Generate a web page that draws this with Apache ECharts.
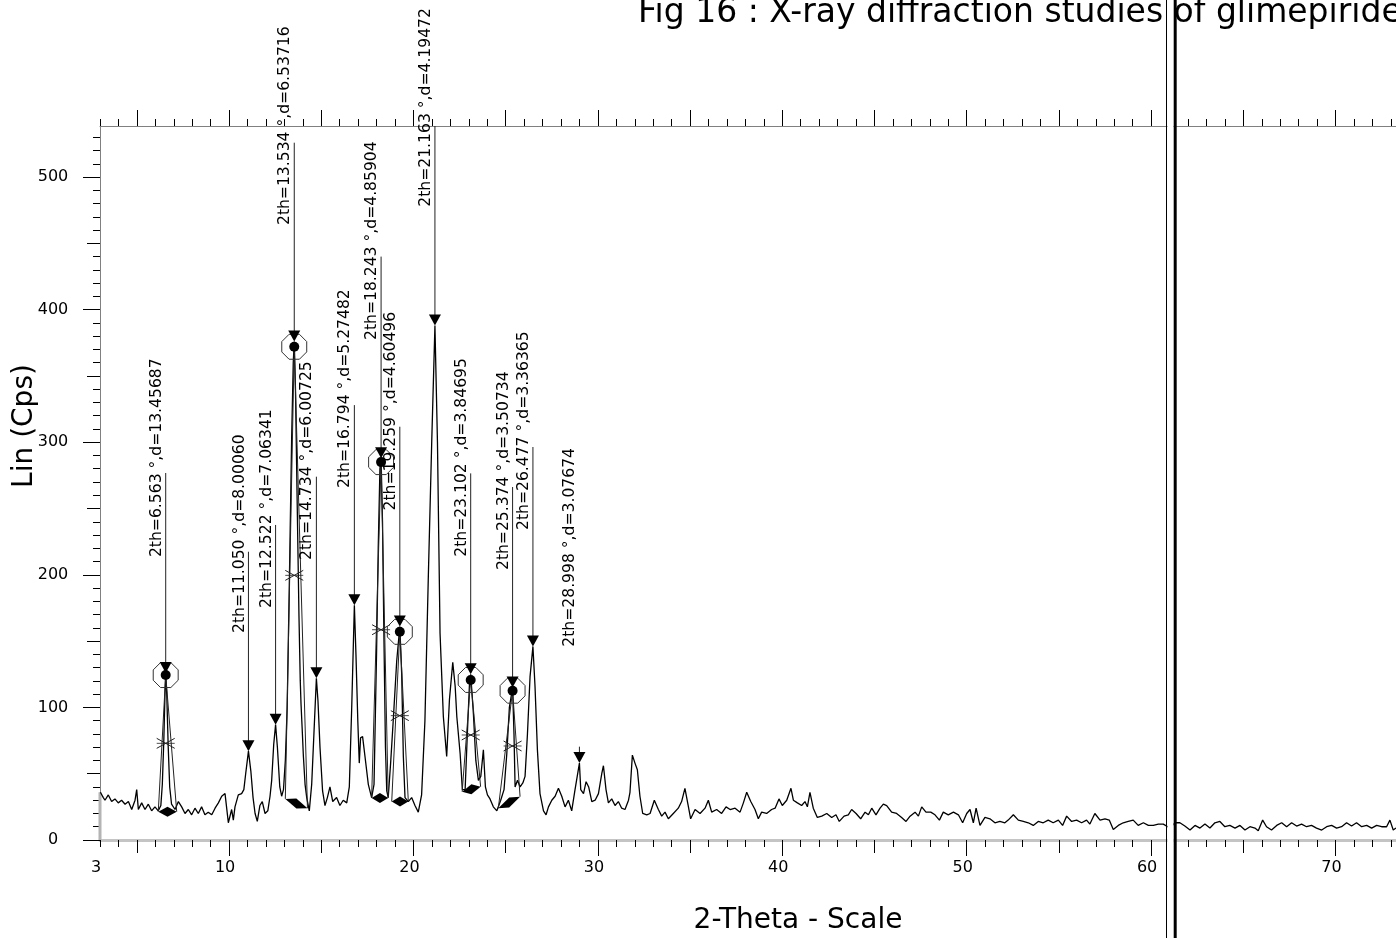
<!DOCTYPE html>
<html><head><meta charset="utf-8">
<script src="https://cdn.jsdelivr.net/npm/echarts@6/dist/echarts.min.js"></script>
<style>html,body{margin:0;padding:0;background:#fff}#c{width:1396px;height:938px}</style>
</head><body><div id="c"></div>
<script>
// ---------- DATA ----------
const twoTheta = [3.02,3.18,3.27,3.45,3.63,3.81,3.99,4.17,4.36,4.54,4.72,4.90,4.99,5.08,5.26,5.44,5.62,5.80,5.98,6.16,6.30,6.38,6.46,6.52,6.563,6.62,6.70,6.78,6.88,7.07,7.25,7.43,7.61,7.79,7.97,8.15,8.33,8.51,8.69,8.87,9.06,9.24,9.42,9.60,9.78,9.96,10.14,10.23,10.32,10.50,10.68,10.80,10.90,11.05,11.18,11.30,11.41,11.53,11.67,11.80,11.95,12.10,12.22,12.31,12.42,12.522,12.62,12.75,12.85,12.95,13.05,13.15,13.27,13.39,13.48,13.534,13.60,13.70,13.79,13.86,13.90,13.96,14.03,14.12,14.21,14.35,14.48,14.60,14.734,14.82,14.93,15.07,15.20,15.33,15.47,15.62,15.83,16.01,16.19,16.38,16.52,16.65,16.794,16.88,16.98,17.06,17.13,17.24,17.37,17.55,17.73,17.86,18.00,18.09,18.18,18.243,18.32,18.40,18.48,18.55,18.63,18.76,18.91,19.09,19.259,19.36,19.45,19.54,19.72,19.90,20.08,20.26,20.44,20.62,20.80,20.99,21.163,21.30,21.44,21.62,21.80,21.95,22.13,22.26,22.35,22.53,22.65,22.80,22.92,23.03,23.102,23.25,23.38,23.52,23.65,23.79,23.90,24.01,24.15,24.33,24.52,24.73,24.91,25.06,25.20,25.374,25.45,25.51,25.64,25.78,25.93,26.05,26.18,26.32,26.477,26.59,26.72,26.86,27.05,27.19,27.32,27.50,27.68,27.86,28.04,28.22,28.40,28.58,28.76,28.998,29.07,29.22,29.36,29.50,29.67,29.85,30.03,30.21,30.30,30.44,30.57,30.75,30.93,31.11,31.29,31.47,31.66,31.74,31.87,32.01,32.14,32.28,32.43,32.65,32.83,33.06,33.28,33.46,33.64,33.82,34.09,34.36,34.54,34.72,34.91,35.03,35.27,35.54,35.81,35.99,36.17,36.44,36.71,36.95,37.17,37.44,37.71,37.89,38.07,38.29,38.52,38.70,38.88,39.15,39.42,39.61,39.82,40.00,40.24,40.47,40.60,40.82,41.05,41.23,41.36,41.50,41.68,41.90,42.14,42.41,42.68,42.91,43.09,43.35,43.58,43.76,44.00,44.25,44.49,44.67,44.85,45.08,45.30,45.48,45.66,45.93,46.20,46.47,46.71,46.93,47.20,47.38,47.56,47.79,48.05,48.28,48.52,48.73,49.00,49.28,49.55,49.78,50.00,50.18,50.36,50.51,50.72,50.99,51.26,51.53,51.80,52.07,52.25,52.53,52.80,53.07,53.34,53.61,53.88,54.15,54.42,54.69,54.97,55.20,55.42,55.69,55.96,56.23,56.50,56.68,56.95,57.23,57.50,57.73,57.95,58.22,58.49,58.76,59.03,59.30,59.58,59.85,60.12,60.39,60.66,61.02,61.29,61.56,61.83,62.11,62.38,62.65,62.92,63.19,63.46,63.73,64.00,64.27,64.55,64.82,65.09,65.36,65.63,65.81,66.05,66.26,66.53,66.81,67.08,67.35,67.62,67.89,68.16,68.43,68.70,68.97,69.25,69.52,69.79,70.06,70.33,70.60,70.87,71.14,71.42,71.69,71.96,72.23,72.50,72.77,72.95,73.13,73.28];
const intensity = [36,32,30,34,29,31,28,30,27,29,23,30,38,23,28,23,27,22,25,22,26,42,75,108,126,110,70,40,27,23,29,25,20,23,19,24,20,25,19,21,19,24,28,33,35,13,23,15,25,34,35,38,50,67,52,32,20,14,26,29,20,22,33,45,72,87,70,40,33,38,60,100,196,301,360,376,340,248,169,120,103,85,63,42,32,22,42,80,122,105,70,37,26,32,40,29,32,26,30,28,40,100,177,140,90,58,77,78,63,42,32,42,143,222,280,288,240,150,70,37,32,58,92,135,161,125,63,32,29,32,26,21,34,90,196,301,388,300,156,93,63,106,134,116,93,65,38,38,80,116,125,95,60,45,48,68,40,34,31,25,22,30,38,65,100,115,80,40,45,40,43,48,80,123,146,116,68,35,22,19,25,30,33,39,33,25,30,22,38,58,38,35,44,40,29,30,35,50,56,38,28,31,26,29,24,23,30,36,64,58,53,33,20,19,20,30,23,18,21,16,20,24,29,39,25,16,23,20,24,30,21,23,20,25,23,24,21,28,36,29,23,16,21,20,23,24,31,26,30,39,30,28,26,29,25,36,24,17,18,20,17,19,14,18,19,23,20,16,21,19,24,19,24,27,26,21,20,17,14,18,21,18,25,21,21,19,15,21,19,21,19,13,20,23,13,24,11,17,16,13,14,13,15,19,15,14,13,11,14,13,15,13,15,11,18,14,15,13,15,12,20,15,16,15,8,11,13,14,15,11,13,11,11,12,12,9,13,13,10.5,7.5,11,9,12,9,13,14,10,11,9,11,7.5,10,9,7,15,10,7.5,11,13,10,13,10.5,12,10,11,9,7.5,10,11,9,10,13,10.5,13,10,11,9,11,10,10,15,7.5,9];

// labelled peaks
const peakPos   = [6.563, 11.050, 12.522, 13.534, 14.734, 16.794, 18.243, 19.259, 21.163, 23.102, 25.374, 26.477, 28.998];
const peakD     = ['13.45687','8.00060','7.06341','6.53716','6.00725','5.27482','4.85904','4.60496','4.19472','3.84695','3.50734','3.36365','3.07674'];
const peakTop   = [126, 67, 87, 376, 122, 177, 288, 161, 388, 125, 115, 146, 58];
const leaderTop = [276.8, 217.4, 237.6, 525.9, 274, 328, 440, 311.7, 538.5, 276.5, 266.2, 296.4, 70.4];
const labelBase = [213.4, 156.1, 175.0, 463.8, 211.2, 265.5, 377.1, 248.5, 477.6, 213.6, 203.6, 233.8, 145.8];

// fitted (selected) peaks
const selPos   = [6.563, 13.534, 18.243, 19.259, 23.102, 25.374];
const selDot   = [124.4, 372, 285, 157, 120.7, 112.6];
const selHalf  = [72.9, 199.6, 158.6, 93.8, 79.2, 70.9];
const selBLx   = [6.16, 13.05, 17.73, 18.82, 22.64, 24.60];
const selBLy   = [21.4, 31, 31.7, 29, 36.4, 23.9];
const selBRx   = [7.16, 14.25, 18.63, 19.72, 23.64, 25.78];
const selBRy   = [21.4, 24, 31.7, 29, 40.2, 32.7];

const xTickLabels = [3, 10, 20, 30, 40, 50, 60, 70];
const yTickLabels = [0, 100, 200, 300, 400, 500];

const titleText = 'Fig 16 : X-ray diffraction studies of glimepiride';
const xName = '2-Theta - Scale';
const yName = 'Lin (Cps)';

// ---------- CHART ----------
const FONT = '"DejaVu Sans", sans-serif';
const seq = (a, b, s) => { const r = []; for (let v = a; v <= b + 1e-9; v += s) r.push(Math.round(v * 1000) / 1000); return r; };
const X_MIN = 3, X_MAX = 73.28, Y_MAX = 538.5;

function xAx(pos, ticks, len, line, labels) {
  return {
    type: 'value', min: X_MIN, max: X_MAX, position: pos, gridIndex: 0,
    axisLine: { show: !!line, onZero: false, lineStyle: line || {} },
    axisTick: { show: true, customValues: ticks, length: len, lineStyle: { color: '#000', width: 1 } },
    axisLabel: labels ? {
      show: true, customValues: labels, fontSize: 16, fontFamily: FONT, color: '#000', margin: 20, padding: [0, 8, 0, 0]
    } : { show: false },
    splitLine: { show: false }
  };
}
function yAx(ticks, len, line, labels) {
  return {
    type: 'value', min: 0, max: Y_MAX, position: 'left', gridIndex: 0,
    axisLine: { show: !!line, onZero: false, lineStyle: line || {} },
    axisTick: { show: true, customValues: ticks, length: len, lineStyle: { color: '#000', width: 1 } },
    axisLabel: labels ? {
      show: true, customValues: labels, fontSize: 16, fontFamily: FONT, color: '#000', align: 'center', margin: 47, padding: [6, 0, 0, 0]
    } : { show: false },
    splitLine: { show: false }
  };
}

const chart = echarts.init(document.getElementById('c'), null, { renderer: 'canvas', width: 1396, height: 938 });

const curve = twoTheta.map((x, i) => [x, intensity[i]]);

const option = {
  animation: false,
  backgroundColor: '#fff',
  grid: { left: 100, top: 126, right: 0, bottom: 98, containLabel: false, outerBoundsMode: 'none' },
  xAxis: [
    xAx('bottom', seq(3, 73, 1), 7, { color: '#c4c4c4', width: 3 }, xTickLabels),
    xAx('bottom', seq(5, 65, 10), 13),
    xAx('bottom', seq(10, 70, 10), 16),
    xAx('top', seq(3, 73, 1), 7, { color: '#808080', width: 1 }),
    xAx('top', seq(5, 70, 5), 16)
  ],
  yAxis: [
    yAx(seq(0, 530, 10), 7, { color: '#808080', width: 1 }, yTickLabels),
    yAx(seq(50, 450, 100), 13),
    yAx(seq(0, 500, 100), 17)
  ],
  series: [
    {
      type: 'line', xAxisIndex: 0, yAxisIndex: 0, data: [[X_MIN, 0], [X_MIN, intensity[0]]],
      showSymbol: false, lineStyle: { color: '#b4b4b4', width: 3 }, z: 1, silent: true
    },
    {
      type: 'line', xAxisIndex: 0, yAxisIndex: 0, data: curve, showSymbol: false, symbol: 'none',
      lineStyle: { color: '#000', width: 1.3 }, z: 2, silent: true
    },
    {
      type: 'custom', xAxisIndex: 0, yAxisIndex: 0, clip: false, z: 4, silent: true,
      data: selPos.map((x, i) => [x, selDot[i], selHalf[i], selBLx[i], selBLy[i], selBRx[i], selBRy[i]]),
      encode: { x: 0, y: 1 },
      renderItem: function (params, api) {
        const d = api.coord([api.value(0), api.value(1)]);
        const h = api.coord([api.value(0), api.value(2)]);
        const bl = api.coord([api.value(3), api.value(4)]);
        const br = api.coord([api.value(5), api.value(6)]);
        const R = 13.5, oct = [];
        for (let k = 0; k < 8; k++) { const a = Math.PI / 8 + k * Math.PI / 4; oct.push([d[0] + R * Math.cos(a), d[1] + R * Math.sin(a)]); }
        const mx = (bl[0] + br[0]) / 2, my = (bl[1] + br[1]) / 2;
        return {
          type: 'group', children: [
            { type: 'line', shape: { x1: d[0], y1: d[1], x2: bl[0], y2: bl[1] }, style: { stroke: '#222', lineWidth: 1 } },
            { type: 'line', shape: { x1: d[0], y1: d[1], x2: br[0], y2: br[1] }, style: { stroke: '#222', lineWidth: 1 } },
            { type: 'polygon', shape: { points: [bl, [mx, my - 5], br, [mx, my + 5]] }, style: { fill: '#000' } },
            { type: 'polygon', shape: { points: oct }, style: { fill: 'none', stroke: '#333', lineWidth: 1 } },
            { type: 'circle', shape: { cx: d[0], cy: d[1], r: 5 }, style: { fill: '#000' } },
            { type: 'line', shape: { x1: h[0] - 9, y1: h[1] - 5, x2: h[0] + 9, y2: h[1] + 5 }, style: { stroke: '#222', lineWidth: 1 } },
            { type: 'line', shape: { x1: h[0] - 9, y1: h[1] + 5, x2: h[0] + 9, y2: h[1] - 5 }, style: { stroke: '#222', lineWidth: 1 } },
            { type: 'line', shape: { x1: h[0] - 9, y1: h[1], x2: h[0] + 9, y2: h[1] }, style: { stroke: '#222', lineWidth: 0.8 } }
          ]
        };
      }
    },
    {
      type: 'custom', xAxisIndex: 0, yAxisIndex: 0, clip: false, z: 5, silent: true,
      data: peakPos.map((x, i) => [x, peakTop[i], leaderTop[i], labelBase[i]]),
      encode: { x: 0, y: 1 },
      renderItem: function (params, api) {
        const i = params.dataIndex;
        const x = api.value(0);
        const tip = api.coord([x, api.value(1)]);
        const top = api.coord([x, api.value(2)]);
        const base = api.coord([x, api.value(3)]);
        const txt = '2th=' + peakPos[i].toFixed(3) + ' °,d=' + peakD[i];
        return {
          type: 'group', children: [
            { type: 'line', shape: { x1: tip[0], y1: top[1], x2: tip[0], y2: tip[1] - 8 }, style: { stroke: '#222', lineWidth: 1 } },
            { type: 'polygon', shape: { points: [[tip[0] - 6, tip[1] - 11], [tip[0] + 6, tip[1] - 11], [tip[0], tip[1]]] }, style: { fill: '#000' } },
            {
              type: 'text', x: tip[0] - 1, y: base[1], rotation: Math.PI / 2,
              style: { text: txt, fill: '#000', font: '15.6px ' + FONT, align: 'left', verticalAlign: 'bottom' }
            }
          ]
        };
      }
    }
  ],
  graphic: [
    { type: 'text', x: 638, y: 13, z: 10, style: { text: titleText, font: '33px ' + FONT, fill: '#000', align: 'left', verticalAlign: 'middle' } },
    { type: 'text', x: 798, y: 921, z: 10, style: { text: xName, font: '28px ' + FONT, fill: '#000', align: 'center', verticalAlign: 'middle' } },
    { type: 'text', x: 25, y: 426, rotation: Math.PI / 2, z: 10, style: { text: yName, font: '28px ' + FONT, fill: '#000', align: 'center', verticalAlign: 'middle' } },
    { type: 'rect', z: 20, shape: { x: 1167.5, y: 0, width: 6, height: 938 }, style: { fill: '#fff' } },
    { type: 'line', z: 21, shape: { x1: 1166.5, y1: 0, x2: 1166.5, y2: 938 }, style: { stroke: '#000', lineWidth: 1 } },
    { type: 'line', z: 21, shape: { x1: 1175.2, y1: 0, x2: 1175.2, y2: 938 }, style: { stroke: '#000', lineWidth: 3 } }
  ]
};
chart.setOption(option);
</script>
</body></html>
